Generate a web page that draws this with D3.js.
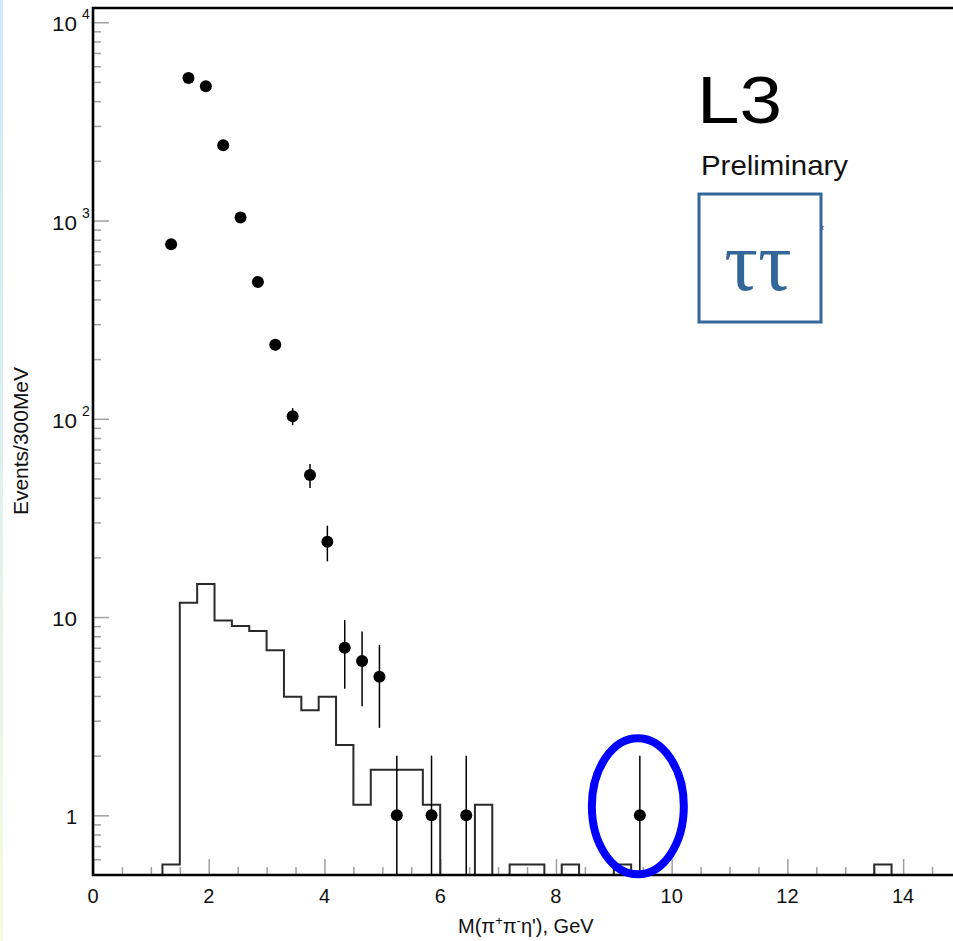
<!DOCTYPE html>
<html>
<head>
<meta charset="utf-8">
<script src="https://cdn.jsdelivr.net/npm/d3@7"></script>
<style>
  html, body { margin: 0; padding: 0; background: #fff; }
  svg { display: block; }
  text { font-family: "Liberation Sans", Arial, Helvetica, sans-serif; }
  text.key-symbol { font-family: "Liberation Serif", "DejaVu Serif", serif; }
</style>
</head>
<body>
<svg id="chart" width="953" height="941"></svg>
<script>
// Measured data: pi+ pi- eta' invariant mass, events per 300 MeV bin
const dataMass   = [1.35, 1.65, 1.95, 2.25, 2.55, 2.85, 3.15, 3.45, 3.75, 4.05, 4.35, 4.65, 4.95, 5.25, 5.85, 6.45, 9.45];
const dataEvents = [760, 5240, 4750, 2400, 1035, 490, 236, 103, 52, 24, 7, 6, 5, 1, 1, 1, 1];
const dataErrors = [27.6, 72.4, 68.9, 49, 32.2, 22.1, 15.4, 10.1, 7.2, 4.9, 2.65, 2.45, 2.24, 1, 1, 1, 1];

// Expected tau-pair background, 50 bins of 0.3 GeV from 0 to 15 GeV
const bgBinWidth = 0.3;
const bgValues = [
  0, 0, 0, 0, 0.565, 11.8, 14.7, 9.6, 9.0, 8.5,
  6.8, 3.96, 3.39, 3.96, 2.26, 1.13, 1.70, 1.70, 1.70, 1.13,
  0, 0, 1.13, 0, 0.565, 0.565, 0, 0.565, 0, 0,
  0.565, 0, 0, 0, 0, 0, 0, 0, 0, 0,
  0, 0, 0, 0, 0, 0.565, 0, 0, 0, 0
];

// Axis ticks
const xMajorTicks = [0, 2, 4, 6, 8, 10, 12, 14];
const xMinorTicks = [0.5, 1, 1.5, 2.5, 3, 3.5, 4.5, 5, 5.5, 6.5, 7, 7.5, 8.5, 9, 9.5, 10.5, 11, 11.5, 12.5, 13, 13.5, 14.5];
const yMajorTicks = [1, 10, 100, 1000, 10000];
const yExponents  = [null, null, 2, 3, 4];
const yTickLabels = ["1", "10", "10", "10", "10"];

const svg = d3.select("#chart");
const W = 953, H = 941;
const frame = { left: 93, top: 8, right: 961, bottom: 875 };
const yMin = 0.5, yMax = 11800;

// Thin coloured strip along the left page edge
const defs = svg.append("defs");
const grad = defs.append("linearGradient")
  .attr("id", "edgeGrad").attr("x1", 0).attr("y1", 0).attr("x2", 0).attr("y2", 1);
grad.append("stop").attr("offset", "0%").attr("stop-color", "#cfe9fb");
grad.append("stop").attr("offset", "50%").attr("stop-color", "#ddf1ee");
grad.append("stop").attr("offset", "100%").attr("stop-color", "#f6fbdc");
svg.append("rect").attr("x", 0).attr("y", 0).attr("width", 3).attr("height", H)
  .attr("fill", "url(#edgeGrad)");

const x = d3.scaleLinear().domain([0, 15]).range([frame.left, frame.right]);
const y = d3.scaleLog().domain([yMin, yMax]).range([frame.bottom, frame.top]);

defs.append("clipPath").attr("id", "plotClip")
  .append("rect").attr("x", frame.left).attr("y", frame.top)
  .attr("width", frame.right - frame.left).attr("height", frame.bottom - frame.top);

// Minor y ticks: 2..9 times each decade inside the range
const yMinorTicks = [];
for (let p = -1; p <= 4; p++) {
  for (let k = 2; k <= 9; k++) {
    const v = k * Math.pow(10, p);
    if (v > yMin && v < yMax && !yMajorTicks.includes(v)) yMinorTicks.push(v);
  }
}

const tickColor = "#a0a0a0";
function styleTicks(g) {
  g.select(".domain").remove();
  g.selectAll(".tick line").attr("stroke", tickColor).attr("stroke-width", 1.5);
  g.selectAll(".tick text").remove();
}

// y ticks (pointing into the frame)
svg.append("g").attr("transform", `translate(${frame.left},0)`)
  .call(d3.axisRight(y).tickValues(yMajorTicks).tickSize(16).tickFormat(""))
  .call(styleTicks);
svg.append("g").attr("transform", `translate(${frame.left},0)`)
  .call(d3.axisRight(y).tickValues(yMinorTicks).tickSize(8).tickFormat(""))
  .call(styleTicks);

// x ticks (pointing up into the frame)
svg.append("g").attr("transform", `translate(0,${frame.bottom})`)
  .call(d3.axisTop(x).tickValues(xMajorTicks).tickSize(16).tickFormat(""))
  .call(styleTicks);
svg.append("g").attr("transform", `translate(0,${frame.bottom})`)
  .call(d3.axisTop(x).tickValues(xMinorTicks).tickSize(8).tickFormat(""))
  .call(styleTicks);

// Background histogram outline
const plot = svg.append("g").attr("clip-path", "url(#plotClip)");
const bgPoints = bgValues.map((v, i) => [i * bgBinWidth, v]);
bgPoints.push([bgValues.length * bgBinWidth, bgValues[bgValues.length - 1]]);
const stepLine = d3.line()
  .x(d => x(d[0]))
  .y(d => y(Math.max(d[1], yMin)))
  .curve(d3.curveStepAfter);
plot.append("path").attr("d", stepLine(bgPoints))
  .attr("fill", "none").attr("stroke", "#2a2a2a").attr("stroke-width", 2);

// Data points with error bars
const pts = dataMass.map((m, i) => ({ m, n: dataEvents[i], e: dataErrors[i] }));
plot.selectAll("line.err").data(pts).join("line").attr("class", "err")
  .attr("x1", d => x(d.m)).attr("x2", d => x(d.m))
  .attr("y1", d => y(d.n + d.e))
  .attr("y2", d => y(Math.max(d.n - d.e, yMin)))
  .attr("stroke", "#000").attr("stroke-width", 1.5);
plot.selectAll("circle.pt").data(pts).join("circle").attr("class", "pt")
  .attr("cx", d => x(d.m)).attr("cy", d => y(d.n)).attr("r", 6)
  .attr("fill", "#000");

// Frame lines: left, bottom and top
svg.append("path")
  .attr("d", `M${frame.right},${frame.top}H${frame.left}V${frame.bottom}H${frame.right}`)
  .attr("fill", "none").attr("stroke", "#000").attr("stroke-width", 2.6);

// y tick labels (powers of ten)
yMajorTicks.forEach((v, i) => {
  const ty = y(v);
  svg.append("text").attr("x", 77).attr("y", ty + 9)
    .attr("text-anchor", "end").attr("font-size", 20).attr("fill", "#111")
    .attr("textLength", yTickLabels[i].length === 2 ? 25 : null)
    .attr("lengthAdjust", "spacingAndGlyphs")
    .text(yTickLabels[i]);
  if (yExponents[i] !== null) {
    svg.append("text").attr("x", 82).attr("y", ty - 3)
      .attr("font-size", 14).attr("fill", "#111")
      .text(yExponents[i]);
  }
});

// x tick labels
svg.selectAll("text.xl").data(xMajorTicks).join("text").attr("class", "xl")
  .attr("x", d => x(d)).attr("y", 903)
  .attr("text-anchor", "middle").attr("font-size", 20).attr("fill", "#111")
  .text(d => d);

// Axis titles
svg.append("text")
  .attr("transform", "translate(28,441) rotate(-90)")
  .attr("text-anchor", "middle").attr("font-size", 20).attr("fill", "#111")
  .attr("textLength", 148).attr("lengthAdjust", "spacingAndGlyphs")
  .text("Events/300MeV");

const xt = svg.append("text").attr("x", 458).attr("y", 933)
  .attr("font-size", 20).attr("fill", "#111");
xt.append("tspan").text("M(π");
xt.append("tspan").attr("font-size", 13).attr("dy", -8).text("+");
xt.append("tspan").attr("dy", 8).text("π");
xt.append("tspan").attr("font-size", 13).attr("dy", -8).text("-");
xt.append("tspan").attr("dy", 8).text("η'), GeV");

// Experiment label
svg.append("text").attr("x", 697).attr("y", 123)
  .attr("font-size", 67).attr("fill", "#000")
  .attr("textLength", 85).attr("lengthAdjust", "spacingAndGlyphs")
  .text("L3");
svg.append("text").attr("x", 701).attr("y", 175)
  .attr("font-size", 28).attr("fill", "#111")
  .attr("textLength", 147).attr("lengthAdjust", "spacingAndGlyphs")
  .text("Preliminary");
svg.append("text").attr("x", 821).attr("y", 230)
  .attr("font-size", 8).attr("fill", "#333").text("τ");

// Tau-pair background key box
const keyBlue = "#336699";
svg.append("rect").attr("x", 699).attr("y", 194).attr("width", 122).attr("height", 128)
  .attr("fill", "#fff").attr("stroke", keyBlue).attr("stroke-width", 3);
svg.append("text").attr("class", "key-symbol").attr("x", 758).attr("y", 290)
  .attr("text-anchor", "middle").attr("font-size", 84)
  .attr("fill", keyBlue).text("ττ");

// Highlight around the single event near 9.45 GeV
svg.append("ellipse")
  .attr("cx", x(9.45) - 2).attr("cy", y(1) - 9)
  .attr("rx", 46).attr("ry", 68)
  .attr("fill", "none").attr("stroke", "#0000ff").attr("stroke-width", 8);
</script>
</body>
</html>
